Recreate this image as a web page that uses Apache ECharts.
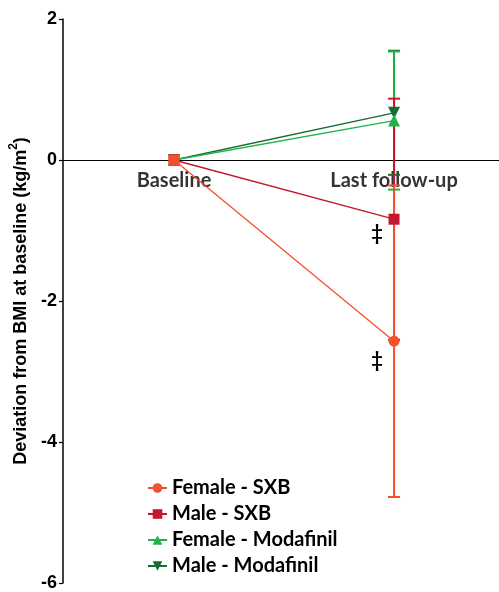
<!DOCTYPE html>
<html><head><meta charset="utf-8">
<script src="https://cdn.jsdelivr.net/npm/echarts@6/dist/echarts.min.js"></script>
<style>html,body{margin:0;padding:0;background:#fff}#c{width:499px;height:592px}</style>
</head><body><div id="c"></div>
<script>
const categories = ['Baseline', 'Last follow-up'];
const seriesNames = ['Female - SXB', 'Male - SXB', 'Female - Modafinil', 'Male - Modafinil'];
const femaleSXB = [0, -2.57];
const maleSXB = [0, -0.84];
const femaleMod = [0, 0.56];
const maleMod = [0, 0.67];
// error bars at last follow-up: [low, high]
const femaleSXBErr = [-4.78, -0.36];
const maleSXBErr = [-2.55, 0.87];
const femaleModErr = [-0.42, 1.54];
const maleModErr = [-0.21, 1.55];
const yTicks = [-6, -4, -2, 0, 2];
const sigMarks = [{ series: 'Male - SXB', value: -0.84, text: '‡' }, { series: 'Female - SXB', value: -2.57, text: '‡' }];

const colors = ['#f4502f', '#c4172c', '#1fb24a', '#176b30'];
const symbols = ['circle', 'rect', 'triangle', 'triangle'];
const rotates = [0, 0, 0, 180];
const values = [femaleSXB, maleSXB, femaleMod, maleMod];
const errs = [femaleSXBErr, maleSXBErr, femaleModErr, maleModErr];
const zLevels = [8, 6, 4, 3];

function errRender(color) {
  return function (params, api) {
    const x = api.value(0), lo = api.value(1), hi = api.value(2);
    const pLo = api.coord([x, lo]), pHi = api.coord([x, hi]);
    const w = 6;
    const st = { stroke: color, lineWidth: 2 };
    return { type: 'group', children: [
      { type: 'line', shape: { x1: pLo[0], y1: pLo[1], x2: pHi[0], y2: pHi[1] }, style: st },
      { type: 'line', shape: { x1: pLo[0] - w, y1: pLo[1], x2: pLo[0] + w, y2: pLo[1] }, style: st },
      { type: 'line', shape: { x1: pHi[0] - w, y1: pHi[1], x2: pHi[0] + w, y2: pHi[1] }, style: st }
    ]};
  };
}

const series = [];
seriesNames.forEach((name, i) => {
  const data = values[i].map((v, k) => {
    if (i === 0 && k === 0) return { value: [k, v], symbol: 'rect', symbolSize: 11 };
    return [k, v];
  });
  const s = {
    name: name, type: 'line', data: data, symbol: symbols[i], symbolRotate: rotates[i],
    symbolSize: symbols[i] === 'triangle' ? 12 : 11, showAllSymbol: true,
    itemStyle: { color: colors[i] }, lineStyle: { color: colors[i], width: 1.3 },
    z: 10 + zLevels[i], animation: false
  };
  const marks = sigMarks.filter(m => m.series === name);
  if (marks.length) {
    s.markPoint = {
      symbol: 'circle', symbolSize: 0,
      data: marks.map(m => ({ coord: [1, m.value], value: m.text })),
      label: { show: true, formatter: '{c}', color: '#000', fontWeight: 'bold', fontSize: 20,
        fontFamily: 'Lato', offset: [-17, name === 'Male - SXB' ? 14 : 19] }
    };
  }
  series.push(s);
});
seriesNames.forEach((name, i) => {
  series.push({
    name: name, type: 'custom', renderItem: errRender(colors[i]),
    data: [[1, errs[i][0], errs[i][1]]], z: zLevels[i], silent: true,
    encode: { x: 0, y: [1, 2] }, tooltip: { show: false }
  });
});
// category labels next to the zero line
series.push({
  name: 'catLabels', type: 'scatter', symbolSize: 0, silent: true, z: 1,
  data: categories.map((c, k) => ({ value: [k, 0], name: c })),
  label: { show: true, position: 'bottom', distance: 11, formatter: '{b}',
    fontFamily: 'Lato', fontWeight: 'bold', fontSize: 20, color: '#000' }
});

const chart = echarts.init(document.getElementById('c'), null, { renderer: 'canvas' });
chart.setOption({
  animation: false,
  color: colors,
  grid: { left: 59, right: 0, top: 19, bottom: 9, containLabel: false },
  legend: {
    data: seriesNames, orient: 'vertical', left: 142, top: 473, itemGap: 6,
    itemWidth: 19, itemHeight: 12,
    textStyle: { fontFamily: 'Lato', fontWeight: 'bold', fontSize: 20, color: '#000' }
  },
  xAxis: {
    type: 'value', min: -0.505, max: 1.477,
    axisLine: { onZero: true, lineStyle: { color: '#000', width: 1.2 } },
    axisTick: { show: false },
    axisLabel: { show: false },
    splitLine: { show: false }
  },
  yAxis: {
    type: 'value', min: -6, max: 2, interval: 2,
    name: '{a|Deviation from BMI at baseline (kg/m}{s|2}{a|)}', nameLocation: 'middle', nameGap: 31,
    nameTextStyle: { fontFamily: 'Arial, Liberation Sans', fontWeight: 'bold', fontSize: 18, color: '#000',
      rich: {
        a: { fontFamily: 'Arial, Liberation Sans', fontWeight: 'bold', fontSize: 18, color: '#000', lineHeight: 22, verticalAlign: 'bottom' },
        s: { fontFamily: 'Arial, Liberation Sans', fontWeight: 'bold', fontSize: 12, color: '#000', lineHeight: 22, verticalAlign: 'top' }
      } },
    axisLine: { show: true, onZero: false, lineStyle: { color: '#000', width: 1.5 } },
    axisTick: { show: true, length: 4, lineStyle: { color: '#000', width: 1.2 } },
    axisLabel: { fontFamily: 'Arial, Liberation Sans', fontWeight: 'bold', fontSize: 18, color: '#000', margin: 6,
      formatter: v => yTicks.includes(v) ? String(v) : '' },
    splitLine: { show: false }
  },
  series: series
});
</script></body></html>
